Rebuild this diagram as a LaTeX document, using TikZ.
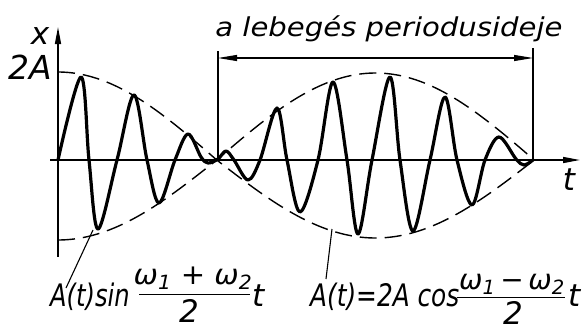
\documentclass[tikz,border=0pt]{standalone}
\usepackage{fontspec}
\setmainfont{DejaVu Sans}
\usetikzlibrary{arrows.meta}
\begin{document}
\begin{tikzpicture}[x=1pt,y=-1pt,
  axisline/.style={line width=1.5pt},
  axistip/.style={-{Triangle[length=17pt,width=6pt]}},
  dimline/.style={line width=1.1pt},
  dimtips/.style={{Triangle[length=19pt,width=6pt]}-{Triangle[length=19pt,width=6pt]}},
  envelope/.style={line width=1.4pt, dash pattern=on 17pt off 8pt},
  carrier/.style={line width=3.2pt, line join=round, line cap=round},
  pointer/.style={line width=1.1pt},
  fracbar/.style={line width=0.8pt},
  txt/.style={inner sep=0pt, font=\itshape\fontsize{31}{32}\selectfont},
  numtxt/.style={inner sep=0pt, font=\itshape\fontsize{28}{30}\selectfont},
  titletxt/.style={inner sep=0pt, font=\itshape\fontsize{26}{28}\selectfont},
]
\useasboundingbox (0,0) rectangle (582,330);

% axes
\coordinate (O) at (58,160);
\coordinate (ybot) at (58,257);
\coordinate (ytop) at (58,27);
\coordinate (tleft) at (50,160);
\coordinate (tright) at (580,160);
\draw[axisline] (O) -- (ybot);
\draw[axisline,axistip] (O) -- (ytop);
\draw[axisline,axistip] (tleft) -- (tright);

\node[txt, anchor=center] (xlab) at (40,36) {x};
\node[txt, anchor=center, font=\itshape\fontsize{33}{34}\selectfont] (twoA) at (30,67) {2A};
\node[txt, anchor=center] (tlab) at (569,180) {t};

% beat period dimension
\coordinate (n1) at (218,160);
\coordinate (n2) at (533,160);
\coordinate (n1top) at (218,51);
\coordinate (n2top) at (533,48);
\coordinate (d1) at (218,58);
\coordinate (d2) at (533,58);
\draw[dimline] (n1) -- (n1top);
\draw[dimline] (n2) -- (n2top);
\draw[dimline,dimtips] (d1) -- (d2);
\node[titletxt, anchor=base] (title) at (389,36) {\scalebox{1.12}[1]{a lebegés periodusideje}};

% envelopes
\draw[envelope] plot[domain=58:216.75, samples=50]
  (\x, {160 - 88*cos(0.566929*(\x-58))})
  -- plot[domain=216.75:533, samples=90]
  (\x, {160 - 78*cos(0.566929*(\x-58))});
\draw[envelope] plot[domain=58:216.75, samples=50]
  (\x, {160 + 80*cos(0.566929*(\x-58))})
  -- plot[domain=216.75:533, samples=90]
  (\x, {160 + 87*cos(0.566929*(\x-58))});

% carrier
\draw[carrier] plot[smooth, tension=0.55] coordinates {
 (58,160) (81,77) (89,160) (98,229) (117,160) (134,95) (147,160) (159,203)
 (175,160) (188,134) (201,157) (208,163) (218,159) (226,151) (234,160) (248,180)
 (260,160) (277,108) (287,160) (300,212) (318,160) (333,82) (347,160) (358,234)
 (372,160) (390,77) (400,160) (413,231) (430,160) (445,97) (457,160) (472,205)
 (485,160) (499,137) (516,159) (524,165) (533,160)};

% left label
\coordinate (p1) at (93,230);
\node[txt, anchor=base west] (l1a) at (50,306) {\scalebox{0.78}[1]{A(t)sin}};
\node[numtxt, anchor=base] (l1n) at (193,284) {\scalebox{1.04}[1]{ω\textsubscript{1} + ω\textsubscript{2}}};
\node[txt, anchor=base] (l1d) at (189,322) {2};
\node[txt, anchor=base west] (l1t) at (252,306) {t};
\coordinate (b1l) at (139,294);
\coordinate (b1r) at (250,294);
\draw[fracbar] (b1l) -- (b1r);
\coordinate (q1) at (66,288);
\draw[pointer] (q1) -- (p1);

% right label
\coordinate (p2) at (332,229);
\node[txt, anchor=base west] (l2a) at (310,306) {\scalebox{0.8}[1]{A(t)=2A cos}};
\node[numtxt, anchor=base] (l2n) at (512,289) {ω\textsubscript{1}\,−\,ω\textsubscript{2}};
\node[txt, anchor=base] (l2d) at (513,324) {2};
\node[txt, anchor=base west] (l2t) at (568,306) {t};
\coordinate (b2l) at (457,297);
\coordinate (b2r) at (565,297);
\draw[fracbar] (b2l) -- (b2r);
\coordinate (q2) at (326,279);
\draw[pointer] (q2) -- (p2);
\end{tikzpicture}
\end{document}
